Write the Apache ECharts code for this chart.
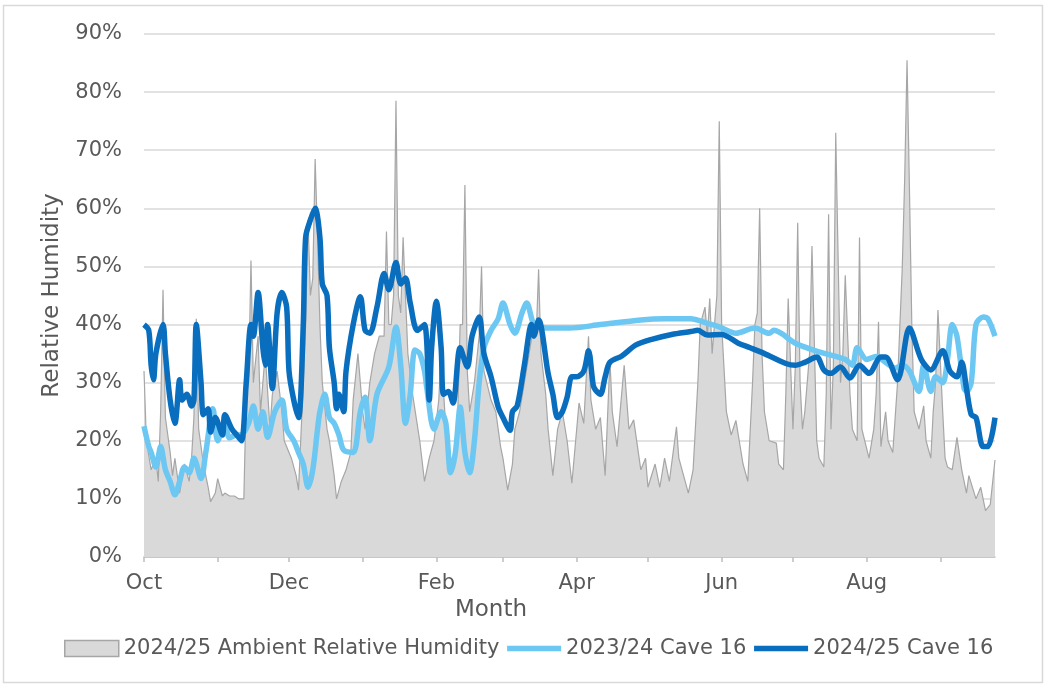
<!DOCTYPE html>
<html>
<head>
<meta charset="utf-8">
<title>Relative Humidity – Cave 16</title>
<script src="https://cdn.jsdelivr.net/npm/echarts@6/dist/echarts.min.js"></script>
<style>
  html, body { margin: 0; padding: 0; background: #ffffff; }
  #chart { width: 1047px; height: 689px; }
</style>
</head>
<body>
<div id="chart"></div>
<script>
// Day 0 is 1 October; the season runs through to late September.
const monthNames = ['Oct', 'Nov', 'Dec', 'Jan', 'Feb', 'Mar', 'Apr', 'May', 'Jun', 'Jul', 'Aug', 'Sep'];
const monthStartDays = [0, 31, 61, 92, 123, 151, 182, 212, 243, 273, 304, 335];
const labelledMonthDays = [0, 61, 123, 182, 243, 304];
const lastDay = 358;

const yMin = 0;
const yMax = 90;
const yStep = 10;

// [day, relative humidity %]
const ambientRH2425 = [
  [0,32],[1,20],[3,15],[5,17],[6,13],[7,25],[8,46],[9,24],[11,18],[12,14],[13,17],[15,11],
  [17,16],[19,13],[20,17],[21,24],[22,41],[23,22],[25,16],[27,12],[28,9.5],[30,11],[31,13.5],
  [33,10.5],[34,11],[36,10.5],[38,10.5],[40,10],[42,10],[43,28],[44,30],[45,51],[46,30],[48,38],
  [49,25],[51,35],[53,22],[54,28],[56,32],[58,25],[59,20],[61,18],[62,17],[64,14],[65,11.5],
  [67,30],[68,40],[69,58],[70,45],[71,48],[72,68.5],[73,55],[74,40],[75,30],[77,22],[78,20],
  [80,14],[81,10],[83,13],[85,15],[87,18],[88,27],[90,35],[92,25],[93,22],[95,30],[97,35],
  [99,38],[101,38],[102,56],[103,40],[104,40],[105,45],[106,78.5],[107,45],[108,42],[109,55],
  [111,35],[113,28],[116,20],[118,13],[120,17],[122,20],[124,27],[125,35],[127,22],[129,17],
  [130,15],[132,25],[133,40],[134,40],[135,64],[136,32],[137,25],[139,30],[141,38],[142,50],
  [143,32],[146,27],[148,25],[150,19],[151,17],[153,11.5],[155,16],[156,22],[158,25],[160,30],
  [162,35],[164,40],[165,38],[166,49.5],[167,35],[169,28],[170,22],[172,14],[174,22],[176,25],
  [178,20],[180,12.7],[183,26.5],[185,23],[187,38],[188,27],[190,22],[192,24],[194,14],[196,34],
  [197,25],[199,19],[202,33],[204,22],[206,23.6],[209,15],[211,17],[212,12],[215,16],[217,12],
  [219,17],[221,13],[224,22.4],[225,17],[229,11],[231,15],[233,30],[234,40],[236,43],[237,38],
  [238,44.5],[239,35],[241,45],[242,75],[243,40],[245,25],[247,21],[249,23.5],[252,16],[254,13],
  [256,30],[257,40],[258,42],[259,60],[260,35],[261,25],[263,20],[266,19.6],[267,16],[269,15],
  [270,28],[271,44.5],[273,22],[274,33],[275,57.5],[276,30],[277,22],[278,25],[280,35],[281,53.5],
  [283,20],[284,17],[286,15.5],[287,28],[288,59],[289,22],[290,33],[291,73],[293,30],[294,35],
  [295,48.5],[297,28],[298,22],[300,20],[301,55],[302,22],[305,17],[307,22],[308,28],[309,40.5],
  [310,19],[312,25],[313,20],[315,18],[317,30],[319,50],[320,65],[321,85.5],[322,63.5],[323,40],
  [324,25],[326,22],[328,26],[329,20],[331,17],[332,25],[333,30],[334,42.5],[336,25],[337,17],
  [338,15.5],[340,15],[342,20.6],[344,15],[346,11],[347,14],[350,10],[352,12],[354,8],[356,9],
  [358,16.7]
];

const cave16RH2324 = [
  [0,22.5],[2,19],[3,18],[5,15.5],[7,19],[9,15],[11,13],[13,10.7],[15,13],[17,15.5],[19,14.5],
  [21,17],[24,13.5],[26,18],[29,25.5],[31,20],[34,23],[36,20.5],[39,21],[41,21],[44,23],[46,26],
  [48,22],[50,25],[52,20.6],[55,25],[58,27],[60,22],[63,20],[65,18],[67,16],[69,12],[71,15],
  [73,22],[74,25],[76,28],[78,24],[80,23],[82,21],[84,18.4],[88,18],[91,25],[93,27.5],[95,20],
  [98,28],[103,32.7],[106,39.6],[108,33],[110,23],[112,28],[114,35.6],[116,35],[118,32],[119,29],
  [122,22],[125,25],[127,23],[129,14.5],[131,18],[133,25.8],[135,18],[137,14.5],[139,20],[141,30],
  [143,36],[146,39],[149,41],[151,43.7],[154,40],[156,38.5],[159,42],[161,43.7],[164,40],
  [167,39.5],[173,39.4],[179,39.4],[192,40],[209,40.8],[219,41],[230,41],[237,40.2],[242,39.6],
  [249,38.5],[257,39.4],[263,38.5],[265,39],[274,36.8],[284,35.3],[295,34],[298,33],[300,36],
  [304,34],[308,34.5],[312,33.5],[316,32.5],[319,33],[322,32],[326,28.5],[328,33],[331,28.5],
  [333,31],[336,30],[338,34],[340,40],[342,38],[345,29],[346,28.5],[348,30],[350,40],[353,41.3],
  [355,41],[358,38]
];

const cave16RH2425 = [
  [0,40],[2,39],[3,33],[4,30.5],[5,35],[8,40],[9,35],[11,27],[13,23],[15,30.5],[16,27],[18,28],
  [20,26],[21,27],[22,40],[24,30],[25,24.5],[27,25.5],[28,21.5],[30,24],[33,21],[34,24.5],[37,22],
  [39,21],[41,20],[43,30],[45,40],[46,38],[48,45.5],[50,36],[51,33],[52,40],[54,29],[56,42],
  [58,45.5],[60,43],[61,32],[63,27],[65,24],[67,40],[68,55],[70,58],[72,60],[74,55],[75,47],
  [77,45],[78,36],[80,30],[81,25.5],[82,28],[84,25],[85,32],[88,40],[91,44.8],[93,39],[95,38.5],
  [98,43],[101,48.8],[103,46],[106,50.7],[108,47],[110,48],[112,43.7],[115,39],[118,40],[120,27],
  [121,36],[123,44],[125,36],[126,28],[128,28.5],[130,26.5],[133,36],[136,32.7],[138,38],
  [141,41.3],[143,35],[146,31],[149,25.8],[151,24],[154,21.8],[155,25],[157,26],[160,33],[163,40],
  [164,38],[166,40.8],[170,31.6],[172,28],[174,24],[176,25],[178,27.5],[180,31],[182,31],[185,32],
  [187,35.5],[189,29.5],[190,28.7],[192,28],[194,31],[196,33.5],[201,34.6],[207,36.5],[214,37.5],
  [222,38.3],[230,38.8],[233,39],[237,38.2],[243,38.3],[250,36.8],[255,36],[261,35],[270,33.3],
  [274,33],[278,33.5],[283,34.4],[286,32.2],[289,31.6],[293,32.7],[297,30.8],[301,33],[305,31.6],
  [310,34.4],[312,34.4],[317,30.5],[322,39.4],[327,34],[331,32.2],[336,35.5],[339,32],[342,31],
  [344,33.5],[346,29],[348,24.5],[350,24],[353,19],[355,19],[358,24]
];

const seriesNames = ['2024/25 Ambient Relative Humidity', '2023/24 Cave 16', '2024/25 Cave 16'];

const textColor = '#595959';
const gridColor = '#D9D9D9';
const lightBlue = '#6CC8F2';
const darkBlue = '#0A6EBE';
const caveLineWidth = 5.5;
const fontFamily = 'DejaVu Sans';

const chart = echarts.init(document.getElementById('chart'), null, { renderer: 'canvas' });

chart.setOption({
  animation: false,
  backgroundColor: '#ffffff',
  textStyle: { fontFamily: fontFamily, color: textColor },
  graphic: [{
    type: 'rect',
    silent: true,
    shape: { x: 3.5, y: 5.5, width: 1039, height: 677 },
    style: { fill: 'none', stroke: '#D9D9D9', lineWidth: 1.5 }
  }],
  grid: { left: 144, right: 52, top: 34, bottom: 132, containLabel: false },
  legend: {
    left: 64,
    top: 638,
    padding: 0,
    itemWidth: 54,
    itemHeight: 16,
    itemGap: 5,
    textStyle: { fontFamily: fontFamily, fontSize: 21, color: textColor },
    data: [
      { name: seriesNames[0], icon: 'rect',
        itemStyle: { color: '#D9D9D9', borderColor: '#A6A6A6', borderWidth: 1.5 } },
      { name: seriesNames[1], itemStyle: { opacity: 0 },
        lineStyle: { color: lightBlue, width: caveLineWidth } },
      { name: seriesNames[2], itemStyle: { opacity: 0 },
        lineStyle: { color: darkBlue, width: caveLineWidth } }
    ]
  },
  xAxis: {
    type: 'value',
    min: 0,
    max: lastDay,
    name: 'Month',
    nameLocation: 'middle',
    nameGap: 40,
    nameTextStyle: { fontFamily: fontFamily, fontSize: 23, color: textColor, padding: [0, 157, 0, 0] },
    axisLine: { show: true, lineStyle: { color: '#BFBFBF', width: 1.5 } },
    axisTick: {
      show: true,
      length: 5,
      customValues: monthStartDays,
      lineStyle: { color: '#BFBFBF', width: 1.5 }
    },
    axisLabel: {
      customValues: labelledMonthDays,
      margin: 16,
      fontFamily: fontFamily,
      fontSize: 21,
      color: textColor,
      formatter: function (v) { return monthNames[monthStartDays.indexOf(v)] || ''; }
    },
    splitLine: { show: false }
  },
  yAxis: {
    type: 'value',
    min: yMin,
    max: yMax,
    interval: yStep,
    name: 'Relative Humidity',
    nameLocation: 'middle',
    nameGap: 80,
    nameTextStyle: { fontFamily: fontFamily, fontSize: 23, color: textColor },
    axisLine: { show: false },
    axisTick: { show: false },
    axisLabel: {
      margin: 22,
      fontFamily: fontFamily,
      fontSize: 21,
      color: textColor,
      formatter: '{value}%'
    },
    splitLine: { show: true, lineStyle: { color: gridColor, width: 1.5 } }
  },
  series: [
    {
      name: seriesNames[0],
      type: 'line',
      data: ambientRH2425,
      symbol: 'none',
      lineStyle: { color: '#A6A6A6', width: 1.2 },
      itemStyle: { color: '#D9D9D9' },
      areaStyle: { color: '#D9D9D9', opacity: 1 },
      z: 1
    },
    {
      name: seriesNames[1],
      type: 'line',
      data: cave16RH2324,
      symbol: 'none',
      smooth: 0.3,
      lineStyle: { color: lightBlue, width: caveLineWidth },
      itemStyle: { color: lightBlue },
      z: 2
    },
    {
      name: seriesNames[2],
      type: 'line',
      data: cave16RH2425,
      symbol: 'none',
      smooth: 0.3,
      lineStyle: { color: darkBlue, width: caveLineWidth },
      itemStyle: { color: darkBlue },
      z: 3
    }
  ]
});
</script>
</body>
</html>
